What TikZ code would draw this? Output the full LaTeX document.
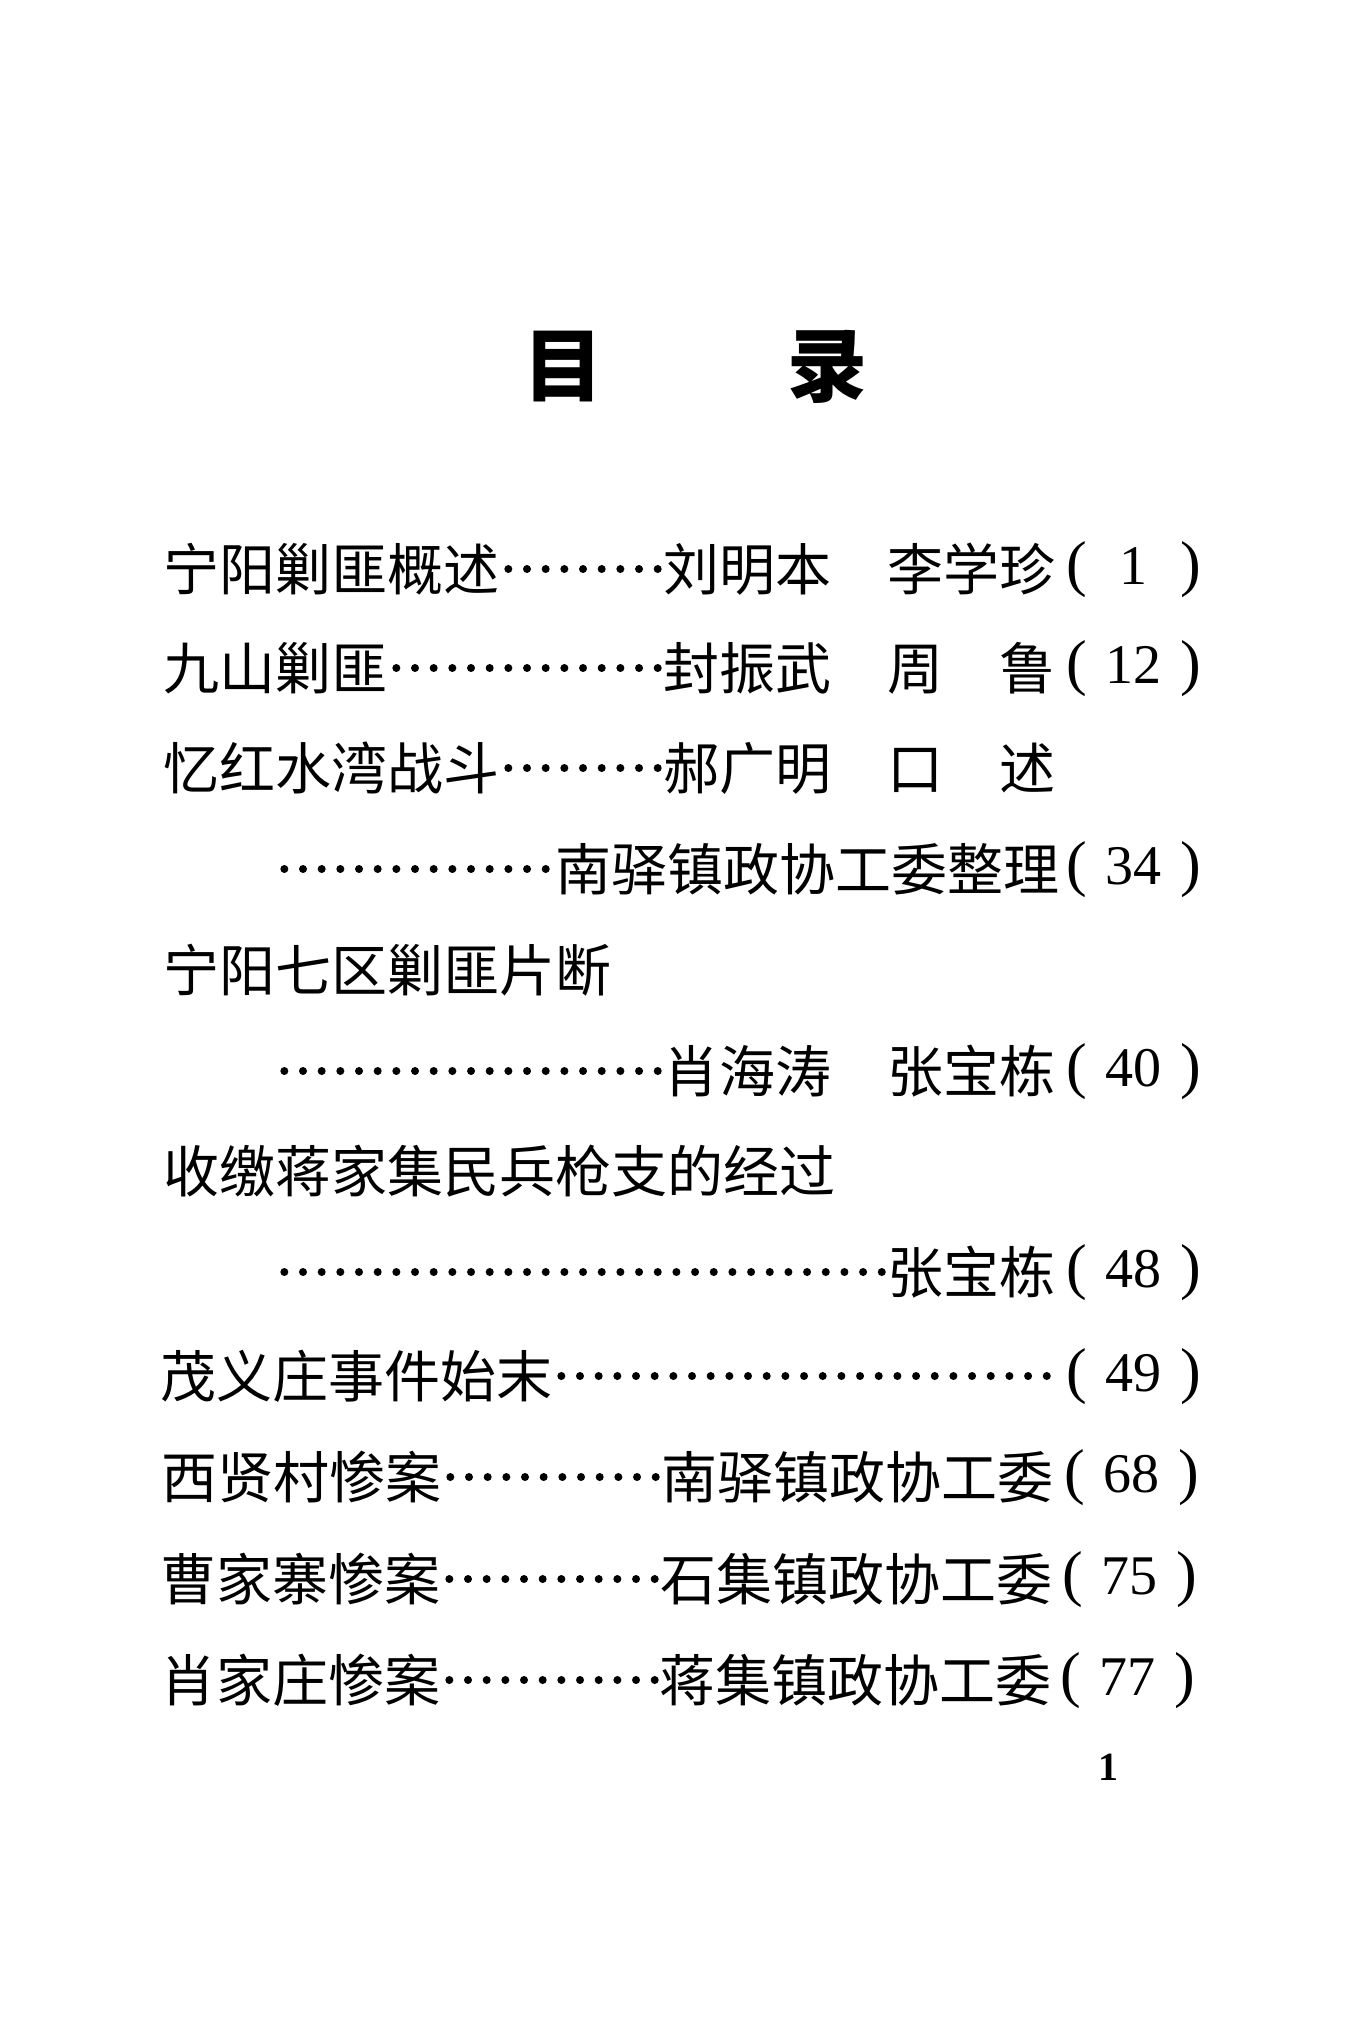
\documentclass[tikz,border=0pt]{standalone}
\usepackage{fontspec}
\usepackage{tikz}
\setmainfont{Liberation Serif}
\newfontfamily\cjk{Noto Sans CJK SC}
\newcommand\pgno[1]{(\makebox[94pt]{\fontsize{56pt}{56pt}\selectfont #1})}

\begin{document}
\begin{tikzpicture}[x=1pt,y=-1pt,
  every node/.style={inner sep=0pt, outer sep=0pt},
  head/.style={anchor=base, font=\cjk\bfseries\fontsize{80pt}{80pt}\selectfont},
  entry/.style={anchor=base west, font=\cjk\fontsize{56pt}{56pt}\selectfont},
  pg/.style={anchor=base west, font=\fontsize{62pt}{62pt}\selectfont},
  leader/.style={line width=8pt, line cap=round, dash pattern=on 0pt off 18.67pt, dash phase=9.33pt}]
\useasboundingbox (0,0) rectangle (1359,2027);

\node[head] (h1) at (563,395) {目};
\node[head] (h2) at (827,395) {录};

% entries
\node[entry] (t1) at (163,590) {宁阳剿匪概述};
\node[entry] (a1) at (663,590) {刘明本　李学珍};
\node[pg] (p1) at (1066,584) {\pgno{1}};
\path[draw,leader] ([yshift=21pt]t1.base east) -- ([yshift=21pt]a1.base west);

\node[entry] (t2) at (163,689) {九山剿匪};
\node[entry] (a2) at (663,689) {封振武　周　鲁};
\node[pg] (p2) at (1066,683) {\pgno{12}};
\path[draw,leader] ([yshift=21pt]t2.base east) -- ([yshift=21pt]a2.base west);

\node[entry] (t3) at (163,789) {忆红水湾战斗};
\node[entry] (a3) at (663,789) {郝广明　口　述};
\path[draw,leader] ([yshift=21pt]t3.base east) -- ([yshift=21pt]a3.base west);

\coordinate (s4) at (275,890);
\node[entry] (a4) at (555,890) {南驿镇政协工委整理};
\node[pg] (p4) at (1066,884) {\pgno{34}};
\path[draw,leader] ([yshift=21pt]s4) -- ([yshift=21pt]a4.base west);

\node[entry] (t5) at (163,991) {宁阳七区剿匪片断};

\coordinate (s6) at (275,1092);
\node[entry] (a6) at (663,1092) {肖海涛　张宝栋};
\node[pg] (p6) at (1066,1086) {\pgno{40}};
\path[draw,leader] ([yshift=21pt]s6) -- ([yshift=21pt]a6.base west);

\node[entry] (t7) at (163,1192) {收缴蒋家集民兵枪支的经过};

\coordinate (s8) at (275,1293);
\node[entry] (a8) at (887,1293) {张宝栋};
\node[pg] (p8) at (1066,1287) {\pgno{48}};
\path[draw,leader] ([yshift=21pt]s8) -- ([yshift=21pt]a8.base west);

\node[entry] (t9) at (160,1397) {茂义庄事件始末};
\node[pg] (p9) at (1066,1391) {\pgno{49}};
\path[draw,leader] ([yshift=21pt]t9.base east) -- ([xshift=-10pt,yshift=15pt]p9.base west);

\node[entry] (t10) at (161,1498) {西贤村惨案};
\node[entry] (a10) at (661,1498) {南驿镇政协工委};
\node[pg] (p10) at (1064,1492) {\pgno{68}};
\path[draw,leader] ([yshift=21pt]t10.base east) -- ([yshift=21pt]a10.base west);

\node[entry] (t11) at (160,1600) {曹家寨惨案};
\node[entry] (a11) at (660,1600) {石集镇政协工委};
\node[pg] (p11) at (1062,1594) {\pgno{75}};
\path[draw,leader] ([yshift=21pt]t11.base east) -- ([yshift=21pt]a11.base west);

\node[entry] (t12) at (160,1701) {肖家庄惨案};
\node[entry] (a12) at (659,1701) {蒋集镇政协工委};
\node[pg] (p12) at (1060,1695) {\pgno{77}};
\path[draw,leader] ([yshift=21pt]t12.base east) -- ([yshift=21pt]a12.base west);

% page number
\node[anchor=base, font=\bfseries\fontsize{40pt}{40pt}\selectfont] (n) at (1108,1780) {1};
\end{tikzpicture}
\end{document}
